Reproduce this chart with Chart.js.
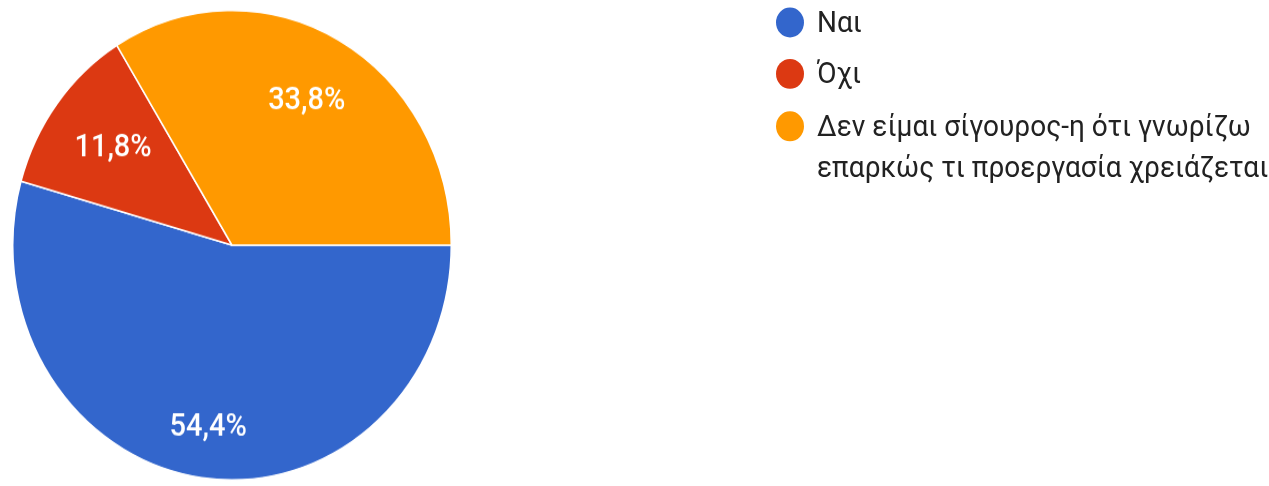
<!DOCTYPE html>
<html>
<head>
<meta charset="utf-8">
<script src="https://cdn.jsdelivr.net/npm/chart.js@4"></script>
<style>
  html, body { margin: 0; padding: 0; background: #fff; }
  body { width: 1269px; height: 486px; overflow: hidden; position: relative; }
  /* the reference is stretched a little vertically */
  #stage { position: absolute; left: 0; top: 0; width: 1269px; height: 454px; transform: scaleY(1.0705); transform-origin: 0 0; }
  #pieBox { position: absolute; left: 12px; top: 9px; width: 440px; height: 440px; }
  #legend { position: absolute; left: 776px; top: 1.5px; font-family: Roboto, "Noto Sans", sans-serif; font-size: 28px; color: #222; }
  .item { display: flex; align-items: flex-start; margin-bottom: 10.5px; line-height: 38px; }
  .dot { width: 28px; height: 28px; border-radius: 50%; margin-top: 5px; margin-right: 13px; flex: none; }
  .txt { width: 460px; }
</style>
</head>
<body>
<div id="stage">
  <div id="pieBox"><canvas id="pie"></canvas></div>
  <div id="legend"></div>
</div>
<script>
// 数据
const labels = ['Ναι', 'Όχι', 'Δεν είμαι σίγουρος-η ότι γνωρίζω επαρκώς τι προεργασία χρειάζεται'];
const values = [54.4, 11.8, 33.8];
const valueLabels = ['54,4%', '11,8%', '33,8%'];
const colors = ['#3366cc', '#dc3912', '#ff9900'];

// 标签离圆心的距离（半径比例）
const labelRadius = [0.786, 0.68, 0.70];

const sliceLabels = {
  id: 'sliceLabels',
  afterDatasetsDraw(chart) {
    const ctx = chart.ctx;
    const arcs = chart.getDatasetMeta(0).data;
    ctx.save();
    ctx.fillStyle = '#fff';
    ctx.font = '500 29px Roboto, sans-serif';
    ctx.textAlign = 'center';
    ctx.textBaseline = 'middle';
    arcs.forEach((arc, i) => {
      const p = arc.getProps(['x', 'y', 'startAngle', 'endAngle', 'outerRadius'], true);
      const mid = (p.startAngle + p.endAngle) / 2;
      const r = p.outerRadius * labelRadius[i];
      ctx.fillText(valueLabels[i], p.x + Math.cos(mid) * r, p.y + Math.sin(mid) * r);
    });
    ctx.restore();
  }
};

new Chart(document.getElementById('pie'), {
  type: 'pie',
  data: {
    labels: labels,
    datasets: [{
      data: values,
      backgroundColor: colors,
      borderColor: '#fff',
      borderWidth: 1.5
    }]
  },
  options: {
    responsive: true,
    maintainAspectRatio: false,
    animation: false,
    rotation: 90,
    layout: { padding: 0 },
    plugins: { legend: { display: false }, tooltip: { enabled: false } }
  },
  plugins: [sliceLabels]
});

// 图例
const legend = document.getElementById('legend');
labels.forEach((l, i) => {
  const item = document.createElement('div');
  item.className = 'item';
  item.innerHTML = `<span class="dot" style="background:${colors[i]}"></span><span class="txt">${l}</span>`;
  legend.appendChild(item);
});
</script>
</body>
</html>
